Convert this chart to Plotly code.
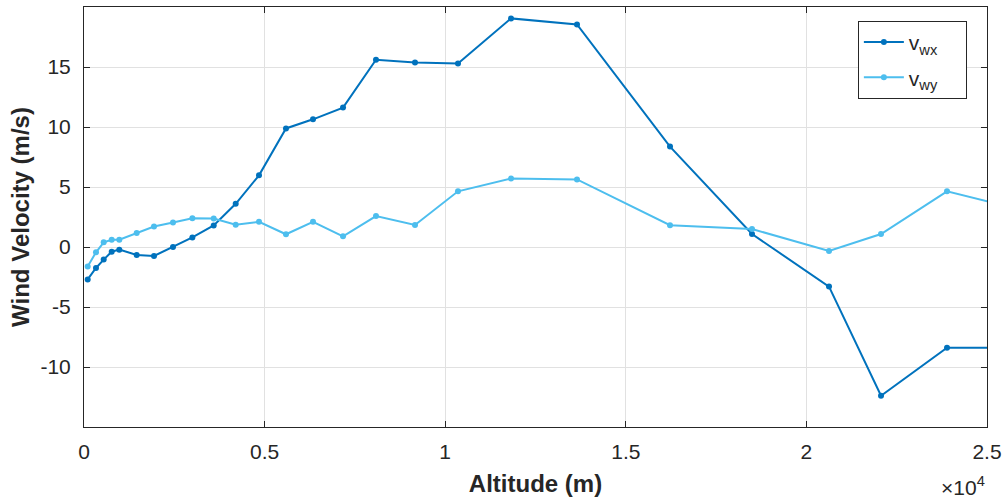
import plotly.graph_objects as go

altitude = [102, 332, 545, 767, 977, 1459, 1938, 2464, 3000, 3591, 4200, 4845,
            5592, 6340, 7171, 8084, 9164, 10354, 11822, 13649, 16224, 18494,
            20626, 22066, 23893, 26481]
v_wx = [-2.7, -1.75, -1.05, -0.39, -0.22, -0.66, -0.75, 0.0, 0.8, 1.8, 3.6, 5.97,
        9.88, 10.64, 11.62, 15.6, 15.38, 15.3, 19.05, 18.55, 8.37, 1.08,
        -3.3, -12.4, -8.4, -8.4]
v_wy = [-1.63, -0.44, 0.39, 0.6, 0.6, 1.16, 1.71, 2.04, 2.4, 2.38, 1.85, 2.1,
        1.06, 2.1, 0.89, 2.58, 1.84, 4.64, 5.7, 5.63, 1.82, 1.5,
        -0.33, 1.08, 4.64, 2.7]

x_tickvals = [0, 5000, 10000, 15000, 20000, 25000]
x_ticktext = ["0", "0.5", "1", "1.5", "2", "2.5"]
y_tickvals = [-10, -5, 0, 5, 10, 15]
y_ticktext = ["-10", "-5", "0", "5", "10", "15"]

FONT = "Liberation Sans, Arial, Helvetica, sans-serif"
AXC = "#262626"
PAD = "\u00a0" * 4

fig = go.Figure()
fig.add_trace(go.Scatter(x=altitude, y=v_wx, mode="lines+markers",
                         name="v<sub>wx</sub>" + PAD, legendgroup="a",
                         line=dict(color="#0072BD", width=2),
                         marker=dict(color="#0072BD", size=6)))
fig.add_trace(go.Scatter(x=altitude, y=v_wy, mode="lines+markers",
                         name="v<sub>wy</sub>" + PAD, legendgroup="b",
                         line=dict(color="#4DBEEE", width=2),
                         marker=dict(color="#4DBEEE", size=6)))

axis_common = dict(showline=True, linecolor=AXC, linewidth=1, mirror="ticks",
                   ticks="inside", ticklen=6, tickcolor=AXC, showgrid=True,
                   gridcolor="#e1e1e1", gridwidth=1, zeroline=False,
                   tickfont=dict(family=FONT, size=21, color=AXC))

fig.update_xaxes(range=[0, 25000], tickvals=x_tickvals, ticktext=x_ticktext,
                 ticklabelstandoff=6,
                 title=dict(text="<b>Altitude (m)</b>", standoff=12,
                            font=dict(family=FONT, size=24, color=AXC)),
                 **axis_common)
fig.update_yaxes(range=[-15, 20], tickvals=y_tickvals, ticktext=y_ticktext,
                 ticklabelstandoff=8,
                 title=dict(text="<b>Wind Velocity (m/s)</b>", standoff=4,
                            font=dict(family=FONT, size=24, color=AXC)),
                 **axis_common)

fig.add_annotation(xref="paper", yref="paper", x=1.0, y=-0.105,
                   xanchor="right", yanchor="top", showarrow=False,
                   text="×10<sup>4</sup>",
                   font=dict(family=FONT, size=21, color=AXC))

fig.update_layout(
    width=1004, height=499,
    margin=dict(l=84, r=17, t=7, b=72, autoexpand=False),
    paper_bgcolor="white", plot_bgcolor="white",
    showlegend=True,
    legend=dict(x=0.857, y=0.967, xanchor="left", yanchor="top",
                bgcolor="white", bordercolor=AXC, borderwidth=1,
                itemwidth=40, tracegroupgap=5,
                font=dict(family=FONT, size=21, color=AXC)),
)

fig.write_html("out.html",
               config={"displayModeBar": False},
               post_script="document.body.style.margin='0px';"
                           "document.body.style.padding='0px';")
